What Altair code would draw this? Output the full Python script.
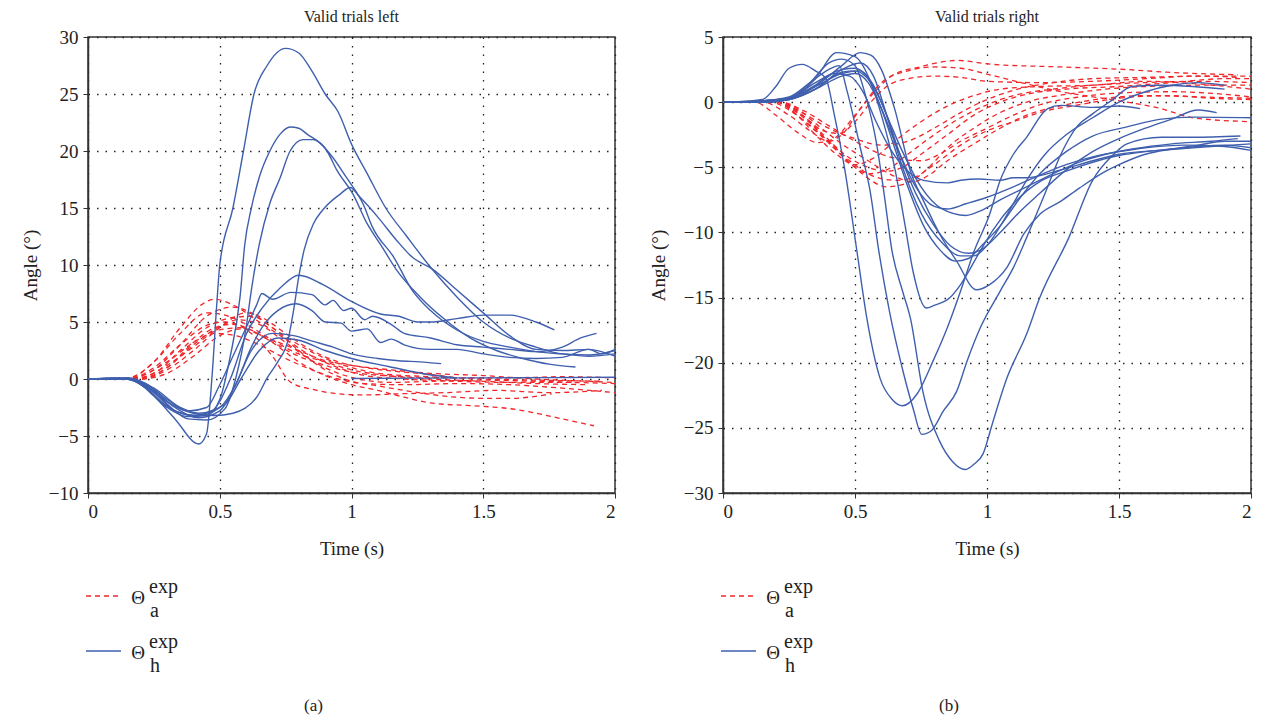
import altair as alt
import pandas as pd

# ---------------- data (time s, angle deg) ----------------
LEFT_BLUE = [
    [(0,0),(0.1,0.1),(0.18,-0.2),(0.25,-1.5),(0.33,-3.5),(0.42,-5.7),(0.45,-4.8),(0.47,0),(0.49,7),(0.5,10),(0.55,15),(0.59,20),(0.63,25),(0.68,27.5),(0.75,29),(0.8,28.6),(0.85,27),(0.9,25),(0.95,23.4),(1.0,20.6),(1.06,18),(1.13,15),(1.21,12.5),(1.3,9.8),(1.4,7.2),(1.5,5.0),(1.6,3.6),(1.7,2.8),(1.8,2.2),(1.9,2.1),(2.0,2.5)],
    [(0,0),(0.15,0),(0.22,-0.8),(0.3,-2.5),(0.38,-3.3),(0.45,-3.2),(0.5,-1.8),(0.54,2),(0.577,7.2),(0.595,11.8),(0.62,15),(0.65,17.7),(0.69,20),(0.73,21.5),(0.767,22.1),(0.8,22),(0.83,21.5),(0.907,20),(0.945,18.3),(1.006,16.2),(1.06,13.6),(1.11,11.8),(1.17,9.6),(1.26,7.2),(1.35,5.3),(1.45,3.6),(1.55,2.5),(1.65,1.8),(1.75,1.3),(1.85,1.05)],
    [(0,0),(0.15,0.1),(0.22,-0.5),(0.3,-2.2),(0.38,-3.5),(0.45,-3.6),(0.52,-2.6),(0.56,0),(0.6,4.5),(0.62,7.8),(0.65,11.8),(0.69,15.4),(0.73,17.7),(0.767,20),(0.816,21),(0.855,21),(0.92,19.7),(0.98,17.7),(1.045,15.3),(1.08,13.3),(1.16,10.7),(1.23,7.8),(1.3,6.0),(1.4,4.3),(1.5,3.3),(1.6,2.8),(1.7,2.4),(1.8,2.2),(1.9,2.0),(2.0,2.2)],
    [(0,0),(0.15,0),(0.22,-0.6),(0.3,-2),(0.4,-3),(0.48,-3.2),(0.55,-3.0),(0.64,-1.6),(0.68,0.1),(0.72,1.5),(0.76,3.5),(0.78,6),(0.8,9),(0.82,11.3),(0.855,13.6),(0.89,14.8),(0.956,16.2),(0.995,16.8),(1.03,16),(1.1,14.2),(1.17,12.2),(1.23,10.7),(1.31,9.6),(1.4,7.8),(1.5,5.8),(1.6,3.8),(1.7,2.6),(1.8,2.5),(1.9,2.6),(1.95,2.2),(2.0,2.6)],
    [(0,0),(0.15,0),(0.22,-0.8),(0.3,-2.4),(0.4,-3.2),(0.47,-2.8),(0.54,0),(0.6,3.9),(0.66,6.2),(0.73,8),(0.8,9.1),(0.89,8.3),(1.0,6.8),(1.11,5.7),(1.18,5.5),(1.25,5.0),(1.3,5.0),(1.4,5.3),(1.5,5.6),(1.6,5.6),(1.7,5.0),(1.77,4.3)],
    [(0,0),(0.15,0.1),(0.22,-0.4),(0.3,-1.8),(0.38,-2.8),(0.45,-2.5),(0.5,-0.5),(0.55,2),(0.6,4.5),(0.64,6.5),(0.66,7.5),(0.7,7.0),(0.77,7.6),(0.85,7.4),(0.9,6.5),(0.93,6.9),(0.97,6.0),(1.0,6.2),(1.05,5.2),(1.08,5.5),(1.15,4.8),(1.2,4.0),(1.3,3.6),(1.4,3.0),(1.5,2.8),(1.6,2.6),(1.7,2.4),(1.8,2.8),(1.87,3.6),(1.93,4.0)],
    [(0,0),(0.15,0),(0.25,-1.2),(0.33,-2.8),(0.42,-3.2),(0.5,-2.5),(0.56,-0.5),(0.62,2.8),(0.66,4.5),(0.72,6.0),(0.79,6.6),(0.85,6.0),(0.9,5.0),(0.96,4.9),(1.0,4.2),(1.06,4.4),(1.11,3.2),(1.15,3.5),(1.2,3.0),(1.3,2.6),(1.4,2.6),(1.5,2.2),(1.6,1.9),(1.7,1.8),(1.8,1.9),(1.9,2.6),(2.0,2.0)],
    [(0,0),(0.15,0),(0.25,-1),(0.33,-2.5),(0.42,-3.4),(0.5,-2.8),(0.56,-0.5),(0.62,2.5),(0.7,4.0),(0.78,3.8),(0.855,3.3),(0.93,2.8),(1.0,2.2),(1.1,1.8),(1.18,1.6),(1.26,1.5),(1.34,1.35)],
    [(0,0),(0.15,0),(0.25,-0.8),(0.35,-2.5),(0.42,-3.0),(0.52,-2.2),(0.58,0),(0.65,2.5),(0.72,3.6),(0.8,3.4),(0.9,2.5),(1.0,1.8),(1.14,1.1),(1.29,0.4),(1.4,0.1)],
    [(1.0,0.05),(1.5,0.1),(2.0,0.15)],
]

LEFT_RED = [
    [(0,0),(0.15,0.1),(0.25,1.5),(0.35,4.5),(0.43,6.5),(0.48,7),(0.55,6.5),(0.65,5),(0.75,3.5),(0.85,2),(0.95,1),(1.05,0.3),(1.2,0),(1.4,-0.2),(1.6,-0.3),(1.8,-0.3),(2.0,-0.4)],
    [(0,0),(0.15,0),(0.25,0.8),(0.35,3),(0.45,5.5),(0.55,6.3),(0.62,5.8),(0.7,4.5),(0.8,3),(0.9,1.8),(1.0,1.0),(1.1,0.5),(1.3,0.2),(1.5,0),(1.7,-0.1),(1.95,-0.2)],
    [(0,0),(0.15,0),(0.25,0.5),(0.35,2.5),(0.45,4.5),(0.55,5.4),(0.62,5.5),(0.7,4.5),(0.8,2.5),(0.9,0.8),(1.0,-0.2),(1.1,-0.6),(1.2,-1.0),(1.4,-1.6),(1.5,-1.7),(1.6,-1.7),(1.76,-1.3)],
    [(0,0),(0.15,0),(0.25,1),(0.35,3),(0.45,4.7),(0.52,5.0),(0.6,4.5),(0.7,3.2),(0.8,1.5),(0.9,0.3),(1.0,-0.5),(1.1,-1.0),(1.2,-1.6),(1.3,-2.1),(1.5,-2.4),(1.6,-2.6),(1.7,-3.0),(1.8,-3.5),(1.92,-4.1)],
    [(0,0),(0.15,0),(0.3,1.5),(0.4,3.2),(0.5,4.3),(0.58,4.5),(0.68,3.5),(0.78,2.2),(0.9,1.2),(1.0,0.6),(1.2,0.2),(1.4,0.1),(1.6,0.1),(1.8,0.2),(2.0,0.1)],
    [(0,0),(0.18,0),(0.3,1.2),(0.4,2.8),(0.48,4.0),(0.56,3.8),(0.65,3.0),(0.75,1.8),(0.85,0.8),(0.95,0),(1.05,-0.4),(1.2,-0.5),(1.4,-0.4),(1.6,-0.5),(1.8,-0.8),(2.0,-1.2)],
    [(0,0),(0.2,0),(0.3,0.8),(0.4,2.5),(0.5,4.5),(0.6,5.8),(0.65,5.5),(0.75,4.0),(0.85,2.5),(0.95,1.5),(1.05,1.0),(1.2,0.6),(1.3,0.4),(1.4,0.1)],
    [(0,0),(0.2,0),(0.3,1),(0.4,3),(0.5,4.6),(0.57,5.2),(0.65,4.8),(0.75,3.2),(0.85,1.6),(0.95,0.5),(1.05,-0.1),(1.15,-0.3),(1.3,-0.2),(1.5,-0.1),(1.7,-0.2),(1.85,-0.3)],
    [(0,0),(0.18,0),(0.3,1),(0.4,3.2),(0.48,4.5),(0.55,4.8),(0.62,4),(0.7,2),(0.77,-0.3),(0.85,-0.9),(0.95,-1.3),(1.05,-1.4),(1.18,-1.3),(1.35,-1.2),(1.55,-1.0),(1.75,-1.2),(1.95,-1.0)],
    [(0,0),(0.15,0),(0.25,1.5),(0.35,4),(0.45,5.8),(0.52,5.6),(0.6,4.8),(0.7,3.4),(0.8,2.2),(0.9,1.5),(1.0,0.8),(1.1,0.4),(1.3,0),(1.5,-0.2),(1.7,-0.4),(1.9,-0.5)],
    [(0,0),(0.2,0),(0.3,0.5),(0.4,2),(0.5,3.8),(0.58,4.4),(0.68,3.6),(0.8,2.5),(0.9,1.6),(1.0,1.2),(1.15,0.8),(1.3,0.5),(1.5,0.3),(1.7,0.0),(1.9,-0.2),(2.0,-0.3)],
]

RIGHT_BLUE = [
    [(0,0),(0.1,0.1),(0.15,0.2),(0.2,1.2),(0.25,2.6),(0.3,2.9),(0.35,2.4),(0.39,1.8),(0.42,-0.8),(0.46,-5),(0.507,-11.4),(0.545,-16.6),(0.595,-21.2),(0.64,-22.8),(0.68,-23.3),(0.735,-22.4),(0.795,-19.9),(0.85,-17.3),(0.9,-14.5),(0.95,-11.5),(1.01,-8.6),(1.05,-6),(1.1,-4),(1.15,-2.7),(1.23,-0.5),(1.28,-0.25),(1.4,-0.4),(1.5,-0.3),(1.58,-0.5)],
    [(0,0),(0.15,0.1),(0.25,0.4),(0.33,1.5),(0.4,2.5),(0.44,2.8),(0.47,0.85),(0.52,-3.5),(0.557,-6.8),(0.59,-11.4),(0.63,-16),(0.68,-20.5),(0.72,-23.5),(0.753,-25.5),(0.79,-25.2),(0.835,-23.7),(0.885,-22.2),(0.924,-19.9),(0.975,-17.3),(1.05,-14.5),(1.1,-12.7),(1.15,-10.4),(1.22,-7),(1.28,-4.0),(1.34,-1.9),(1.4,-0.9),(1.47,0.1),(1.55,1.2),(1.66,1.3),(1.78,1.2),(1.9,1.0)],
    [(0,0),(0.15,0),(0.25,0.3),(0.33,1.5),(0.4,3.0),(0.45,3.3),(0.5,2.8),(0.54,0.5),(0.58,-3),(0.61,-7),(0.64,-11.4),(0.68,-14.5),(0.71,-16.6),(0.757,-22.2),(0.82,-26),(0.87,-27.6),(0.917,-28.2),(0.95,-27.8),(0.985,-27),(1.02,-24.7),(1.075,-21.2),(1.15,-17.8),(1.2,-15),(1.31,-10.4),(1.4,-6),(1.47,-4.2),(1.53,-3.2),(1.66,-2.7),(1.78,-2.7),(1.96,-2.6)],
    [(0,0),(0.15,0.1),(0.25,0.3),(0.35,1.8),(0.43,3.8),(0.5,3.5),(0.56,1.5),(0.6,-1),(0.65,-5),(0.69,-9.5),(0.72,-13),(0.77,-15.8),(0.8,-15.6),(0.86,-15.0),(0.9,-14),(0.975,-11.4),(1.02,-9.9),(1.1,-7.8),(1.2,-6.1),(1.3,-5.3),(1.42,-4.5),(1.5,-4.1),(1.6,-3.8),(1.7,-3.6),(1.8,-3.4),(1.9,-3.3),(2.0,-3.5)],
    [(0,0),(0.15,0),(0.25,0.2),(0.35,1.2),(0.45,2.8),(0.52,3.8),(0.56,3.6),(0.6,2.5),(0.65,-0.5),(0.71,-5.3),(0.76,-7.6),(0.82,-10.1),(0.885,-12.2),(0.96,-14.4),(1.01,-14),(1.075,-12.7),(1.14,-10.1),(1.2,-8.6),(1.28,-7.6),(1.35,-6.6),(1.45,-5.3),(1.5,-4.8),(1.6,-4.0),(1.7,-3.6),(1.8,-3.3),(1.9,-3.0),(2.0,-3.0)],
    [(0,0),(0.15,0.1),(0.25,0.3),(0.35,1.5),(0.45,2.5),(0.5,2.6),(0.55,1.8),(0.6,-0.5),(0.65,-3.5),(0.7,-6.5),(0.76,-9.5),(0.82,-11.3),(0.88,-12.2),(0.93,-12),(0.98,-11),(1.05,-9.5),(1.12,-7.5),(1.2,-5.5),(1.3,-3.8),(1.4,-2.6),(1.53,-1.9),(1.66,-1.3),(1.78,-1.15),(2.0,-1.2)],
    [(0,0),(0.15,0),(0.25,0.2),(0.35,1.0),(0.45,2.3),(0.5,2.4),(0.56,1.5),(0.62,-1),(0.67,-4),(0.73,-7),(0.8,-9.5),(0.86,-11),(0.93,-11.6),(0.98,-11.3),(1.05,-10),(1.12,-8.5),(1.2,-7),(1.3,-5.2),(1.4,-3.8),(1.5,-2.8),(1.6,-2.0),(1.7,-1.3),(1.8,-0.6),(1.87,-0.8)],
    [(0,0),(0.15,0.1),(0.25,0.3),(0.35,1.2),(0.45,2.2),(0.52,2.4),(0.57,1.3),(0.62,-1),(0.68,-3.8),(0.75,-6.5),(0.83,-8.2),(0.92,-8.7),(0.98,-8.3),(1.05,-7.5),(1.15,-6.5),(1.25,-5.5),(1.35,-4.6),(1.45,-4.0),(1.55,-3.6),(1.7,-3.2),(1.85,-3.0),(1.95,-2.8)],
    [(0,0),(0.15,0),(0.25,0.2),(0.35,1.0),(0.45,2.0),(0.5,2.2),(0.55,1.5),(0.6,-0.5),(0.66,-3.5),(0.73,-6.5),(0.8,-8),(0.85,-8.2),(0.92,-7.8),(1.0,-7.3),(1.1,-6.5),(1.2,-5.6),(1.3,-4.8),(1.4,-4.2),(1.5,-3.8),(1.6,-3.5),(1.75,-3.3),(1.9,-3.4),(2.0,-3.7)],
    [(0,0),(0.15,0.1),(0.25,0.3),(0.35,1.3),(0.42,2.2),(0.48,2.0),(0.53,0.8),(0.58,-1.5),(0.64,-3.8),(0.7,-5.3),(0.76,-6.0),(0.85,-6.2),(0.9,-6.0),(0.97,-5.9),(1.05,-6.0),(1.1,-5.8),(1.15,-5.8),(1.28,-5.2),(1.4,-4.5),(1.5,-4.0),(1.65,-3.7),(1.78,-3.5),(2.0,-3.2)],
    [(0,0),(0.15,0),(0.25,0.2),(0.35,1.0),(0.45,2.5),(0.52,3.0),(0.57,2.0),(0.62,-1),(0.68,-5),(0.75,-8.5),(0.83,-10.8),(0.9,-11.8),(0.95,-11.8),(1.0,-11),(1.08,-8.5),(1.15,-6),(1.22,-4),(1.3,-2.5),(1.4,-1.2),(1.5,0),(1.6,0.8),(1.7,1.3),(1.8,1.5),(1.9,1.3)],
]

RIGHT_RED = [
    [(0,0),(0.12,0),(0.2,-1.0),(0.28,-2.3),(0.36,-3.1),(0.42,-2.8),(0.5,-1),(0.58,0.9),(0.645,2.1),(0.745,2.7),(0.886,3.2),(1.02,2.9),(1.28,2.7),(1.53,2.5),(1.68,2.3),(1.95,2.1)],
    [(0,0),(0.15,0),(0.25,-1.0),(0.33,-2.2),(0.4,-3.0),(0.45,-2.5),(0.52,-0.5),(0.6,1.5),(0.7,2.4),(0.8,2.7),(0.9,2.6),(1.01,2.1),(1.15,1.4),(1.28,0.8),(1.47,0.2),(1.66,-0.5),(1.78,-1.2),(2.0,-1.5)],
    [(0,0),(0.2,0),(0.28,-0.8),(0.35,-2),(0.42,-3.5),(0.5,-5),(0.56,-6.0),(0.62,-6.5),(0.7,-6.2),(0.78,-5),(0.85,-3.5),(0.95,-2),(1.05,-0.8),(1.15,0),(1.3,0.6),(1.45,1.0),(1.6,1.2),(1.8,1.3),(2.0,1.3)],
    [(0,0),(0.2,0),(0.28,-0.5),(0.36,-1.8),(0.45,-3.2),(0.55,-4.5),(0.63,-5.5),(0.72,-6.1),(0.78,-5.6),(0.85,-4.5),(0.95,-3.2),(1.05,-2),(1.15,-1),(1.3,-0.2),(1.45,0.3),(1.6,0.5),(1.8,0.4),(2.0,0.3)],
    [(0,0),(0.2,0),(0.28,-1.0),(0.35,-2.2),(0.42,-3.5),(0.5,-5),(0.55,-5.5),(0.62,-5.2),(0.7,-4),(0.8,-2.5),(0.9,-1.2),(1.0,-0.2),(1.1,0.5),(1.25,1.0),(1.4,1.3),(1.6,1.5),(1.8,1.6),(2.0,1.5)],
    [(0,0),(0.22,0),(0.3,-1.0),(0.38,-2.5),(0.46,-4),(0.55,-5),(0.62,-5.3),(0.68,-5.0),(0.75,-4),(0.85,-2.5),(0.95,-1.0),(1.05,0),(1.15,0.6),(1.3,1.0),(1.5,1.2),(1.7,1.5),(1.9,1.8),(2.0,1.8)],
    [(0,0),(0.2,0),(0.27,-0.8),(0.35,-2.5),(0.43,-4),(0.5,-4.8),(0.57,-4.3),(0.65,-3),(0.75,-1.5),(0.85,-0.3),(0.95,0.5),(1.05,1.0),(1.2,1.2),(1.4,1.3),(1.6,1.6),(1.8,1.4),(2.0,1.0)],
    [(0,0),(0.22,0),(0.3,-0.6),(0.4,-1.8),(0.5,-3),(0.6,-4),(0.68,-4.4),(0.75,-4.5),(0.82,-4.0),(0.9,-3.0),(1.0,-2.0),(1.1,-1.0),(1.2,-0.2),(1.35,0.4),(1.5,0.7),(1.7,0.8),(1.9,0.6),(2.0,0.4)],
    [(0,0),(0.2,0),(0.3,-0.8),(0.4,-2.0),(0.5,-2.8),(0.6,-3.3),(0.7,-3.0),(0.8,-2.0),(0.9,-0.8),(1.0,0.2),(1.1,0.9),(1.25,1.5),(1.4,1.8),(1.6,1.9),(1.8,2.0),(2.0,2.0)],
    [(0,0),(0.18,0),(0.25,-0.6),(0.33,-1.8),(0.4,-3),(0.48,-4.5),(0.56,-5.6),(0.65,-6.0),(0.72,-5.8),(0.8,-4.8),(0.9,-3.3),(1.0,-2.2),(1.1,-1.5),(1.2,-0.8),(1.35,-0.2),(1.5,0.3),(1.7,0.5),(1.85,0.3),(2.0,0.2)],
    [(0,0),(0.2,0),(0.3,-1.0),(0.38,-2.2),(0.44,-2.4),(0.5,-1.5),(0.56,0),(0.62,1.2),(0.7,1.8),(0.8,2.0),(0.9,1.9),(1.0,1.6),(1.2,1.5),(1.4,1.6),(1.6,1.8),(1.8,2.0),(1.95,1.9)],
]

TITLES = ["Valid trials left", "Valid trials right"]
CAPTIONS = ["(a)", "(b)"]
X_TICKS = [0, 0.5, 1, 1.5, 2]
LEFT_Y = (-10, 30)
RIGHT_Y = (-30, 5)

RED = "#f0262b"
BLUE = "#3f5fae"
INK = "#222222"
FONT = "Liberation Serif"
W_L, W_R, H = 527, 528, 456


def to_frame(lines, prefix):
    rows = []
    for i, ln in enumerate(lines):
        for t, v in ln:
            rows.append({"t": t, "v": v, "s": f"{prefix}{i}"})
    return pd.DataFrame(rows)


one = pd.DataFrame({"a": [0]})


def panel(red, blue, ydom, title, caption, width, ytitle_x):
    xs = alt.Scale(domain=[0, 2], nice=False)
    ys = alt.Scale(domain=list(ydom), nice=False)
    xax = alt.Axis(values=X_TICKS, format="~g", title="Time (s)", titleY=55,
                   titleBaseline="middle", tickSize=5, labelPadding=4)
    yax = alt.Axis(values=list(range(ydom[0], ydom[1] + 1, 5)), title="Angle (°)",
                   titleX=ytitle_x, titleY=H / 2, titleAngle=-90, titleBaseline="middle",
                   tickSize=5, labelPadding=5)
    red_l = alt.Chart(to_frame(red, "r")).mark_line(
        color=RED, strokeWidth=1.3, strokeDash=[5, 4], interpolate="monotone"
    ).encode(x=alt.X("t:Q", scale=xs, axis=xax),
             y=alt.Y("v:Q", scale=ys, axis=yax), detail="s:N")
    blue_l = alt.Chart(to_frame(blue, "b")).mark_line(
        color=BLUE, strokeWidth=1.4, interpolate="monotone"
    ).encode(x=alt.X("t:Q", scale=xs), y=alt.Y("v:Q", scale=ys), detail="s:N")

    leg = []
    for color, dash, yline, sub in [(RED, [5, 4], 559, "a"), (BLUE, [1, 0], 614, "h")]:
        leg.append(alt.Chart(one).mark_rule(color=color, strokeWidth=1.3, strokeDash=dash)
                   .encode(x=alt.value(-2), x2=alt.value(33), y=alt.value(yline)))
        leg.append(alt.Chart(one).mark_text(text="Θ", font=FONT, fontSize=19, align="center",
                                            baseline="middle", color=INK)
                   .encode(x=alt.value(50), y=alt.value(yline + 2)))
        leg.append(alt.Chart(one).mark_text(text="exp", font=FONT, fontSize=20, align="left",
                                            baseline="middle", color=INK)
                   .encode(x=alt.value(61), y=alt.value(yline - 9)))
        leg.append(alt.Chart(one).mark_text(text=sub, font=FONT, fontSize=20, align="left",
                                            baseline="middle", color=INK)
                   .encode(x=alt.value(62), y=alt.value(yline + 15)))
    cap = alt.Chart(one).mark_text(text=caption, font=FONT, fontSize=17, align="center",
                                   baseline="middle", color=INK).encode(
        x=alt.value(width / 2 - 38), y=alt.value(669))
    return alt.layer(red_l, blue_l, *leg, cap).properties(
        width=width, height=H,
        title=alt.TitleParams(title, font=FONT, fontSize=16, fontWeight="normal",
                              anchor="middle", offset=3, color=INK))


left = panel(LEFT_RED, LEFT_BLUE, LEFT_Y, TITLES[0], CAPTIONS[0], W_L, -58)
right = panel(RIGHT_RED, RIGHT_BLUE, RIGHT_Y, TITLES[1], CAPTIONS[1], W_R, -65)

chart = alt.hconcat(left, right, spacing=29).properties(
    padding={"left": 20, "top": 8, "right": 5, "bottom": 5},
    background="white",
).configure_view(stroke="#333", strokeWidth=1.5).configure_axis(
    labelFont=FONT, titleFont=FONT, labelFontSize=19, titleFontSize=19,
    labelColor=INK, titleColor=INK, titleFontWeight="normal",
    domainColor="#333", domainWidth=1.5, tickColor="#333",
    gridColor="#222", gridDash=[1.5, 7], gridWidth=1.3, gridOpacity=1
)

chart.save("out.html", embed_options={"renderer": "svg", "actions": False})
